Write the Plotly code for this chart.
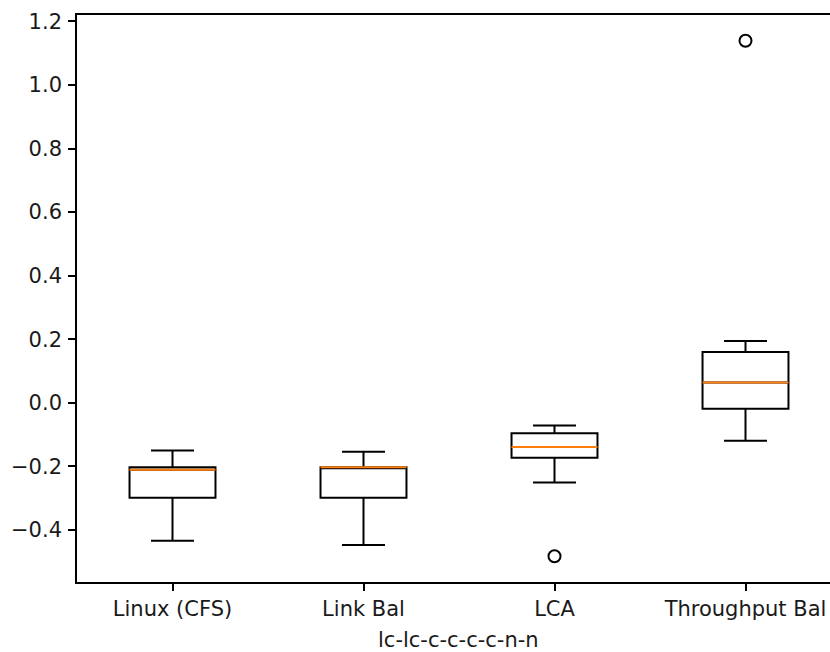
import plotly.graph_objects as go

# Five-number summaries per scheduler
categories = ["Linux (CFS)", "Link Bal", "LCA", "Throughput Bal"]
lower_whisker = [-0.434, -0.448, -0.251, -0.120]
q1_values = [-0.299, -0.299, -0.173, -0.019]
medians = [-0.211, -0.203, -0.139, 0.064]
q3_values = [-0.203, -0.203, -0.096, 0.160]
upper_whisker = [-0.150, -0.154, -0.072, 0.194]

# Fliers: (category index, value)
outlier_groups = [3, 4]
outlier_values = [-0.483, 1.139]

y_ticks = [-0.4, -0.2, 0.0, 0.2, 0.4, 0.6, 0.8, 1.0, 1.2]
x_title = "lc-lc-c-c-c-c-n-n"

BOX_WIDTH = 0.45
FONT = dict(family="DejaVu Sans", size=21, color="#1a1a1a")
positions = list(range(1, len(categories) + 1))

fig = go.Figure()

for pos, lo, a, m, b, hi in zip(positions, lower_whisker, q1_values, medians,
                                q3_values, upper_whisker):
    fig.add_trace(go.Box(
        x=[pos], q1=[a], median=[m], q3=[b],
        lowerfence=[lo], upperfence=[hi],
        width=BOX_WIDTH, whiskerwidth=0.5,
        line=dict(color="black", width=2),
        fillcolor="rgba(255,255,255,0)",
        boxpoints=False, showlegend=False, hoverinfo="skip",
    ))

# Orange median segments across each box
mx, my = [], []
for pos, m in zip(positions, medians):
    mx += [pos - BOX_WIDTH / 2, pos + BOX_WIDTH / 2, None]
    my += [m, m, None]
fig.add_trace(go.Scatter(x=mx, y=my, mode="lines",
                         line=dict(color="#ff7f0e", width=2),
                         showlegend=False, hoverinfo="skip"))

# Outliers as open circles
fig.add_trace(go.Scatter(
    x=outlier_groups, y=outlier_values, mode="markers",
    marker=dict(symbol="circle-open", size=12, color="black",
                line=dict(width=2, color="black")),
    showlegend=False, hoverinfo="skip",
))

all_vals = lower_whisker + upper_whisker + outlier_values
span = max(all_vals) - min(all_vals)
y_range = [min(all_vals) - 0.05 * span, max(all_vals) + 0.05 * span]

W, H = 830, 652
ML, MT, MB = 77, 15, 70
px_per_unit = 191.0
x_range = [0.5, 0.5 + (W - ML) / px_per_unit]

fig.update_layout(
    width=W, height=H,
    margin=dict(l=ML, r=0, t=MT, b=MB),
    paper_bgcolor="white", plot_bgcolor="white",
    font=FONT,
    boxmode="overlay",
    xaxis=dict(
        range=x_range, tickmode="array", tickvals=positions, ticktext=categories,
        showgrid=False, zeroline=False,
        showline=True, mirror=True, linecolor="black", linewidth=1.6,
        ticks="outside", ticklen=7, tickwidth=1.6, tickcolor="black",
        tickfont=FONT,
    ),
    yaxis=dict(
        range=y_range, tickmode="array", tickvals=y_ticks, tickformat=".1f",
        showgrid=False, zeroline=False,
        showline=True, mirror=False, linecolor="black", linewidth=1.6,
        ticks="outside", ticklen=7, tickwidth=1.6, tickcolor="black",
        tickfont=FONT, ticklabelstandoff=2,
    ),
    annotations=[dict(
        text=x_title, xref="paper", yref="paper",
        x=(458 - ML) / (W - ML), y=0, xanchor="center", yanchor="top",
        yshift=-44, showarrow=False, font=FONT,
    )],
)

fig.write_html("out.html")
